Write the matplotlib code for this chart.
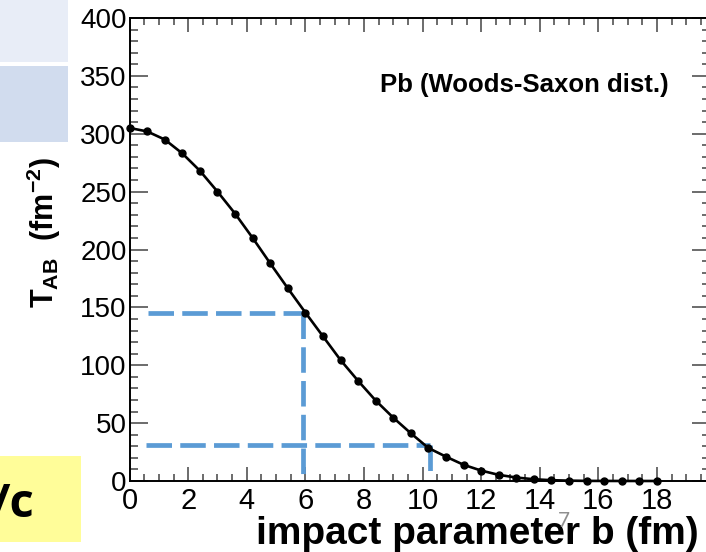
import matplotlib
matplotlib.use("Agg")
import matplotlib.pyplot as plt
from matplotlib.patches import Rectangle
from matplotlib.ticker import MultipleLocator

plt.rcParams['font.family'] = ['Liberation Sans', 'DejaVu Sans']
plt.rcParams['mathtext.fontset'] = 'custom'
plt.rcParams['mathtext.rm'] = 'Liberation Sans'
plt.rcParams['mathtext.bf'] = 'Liberation Sans:bold'
plt.rcParams['mathtext.it'] = 'Liberation Sans:italic'

# nuclear overlap function for Pb+Pb vs impact parameter
b_fm = [0.0, 0.6, 1.2, 1.8, 2.4, 3.0, 3.6, 4.2, 4.8, 5.4, 6.0,
        6.6, 7.2, 7.8, 8.4, 9.0, 9.6, 10.2, 10.8, 11.4, 12.0,
        12.6, 13.2, 13.8, 14.4, 15.0, 15.6, 16.2, 16.8, 17.4, 18.0]
t_ab = [305, 302, 295, 283, 268, 250, 231, 210, 188, 166.5, 145.5,
        125, 104.5, 86.5, 69.5, 54.7, 41.2, 28.5, 21, 14, 9,
        5.3, 3.0, 1.5, 0.7, 0.3, 0.1, 0.05, 0.02, 0.01, 0.0]

# read-off guides: (level, b where the level meets the curve)
guide_levels = [145, 31]
guide_b = [5.93, 10.25]
guide_start = [0.63, 0.56]
guide_floor = [0, 7]

W, H = 706, 552
fig = plt.figure(figsize=(W / 100, H / 100), dpi=100)

# slide decorations around the plot
fig.add_artist(Rectangle((0, 1 - 62 / H), 68 / W, 62 / H, transform=fig.transFigure,
                         facecolor='#E8EDF7', edgecolor='none'))
fig.add_artist(Rectangle((0, 1 - 142 / H), 68 / W, 76 / H, transform=fig.transFigure,
                         facecolor='#D1DCEE', edgecolor='none'))
fig.add_artist(Rectangle((0, 1 - 542 / H), 81 / W, 86 / H, transform=fig.transFigure,
                         facecolor='#FFFD99', edgecolor='none'))
fig.text(34 / W, 1 - 517 / H, '/c', ha='right', va='baseline', fontsize=34,
         fontweight='bold', family=['Open Sans', 'DejaVu Sans'])

ax = fig.add_axes([129.6 / W, 1 - 481 / H, 580.1 / W, 463 / H])

blue = '#5B9BD5'
for lvl, bx, b0, fl in zip(guide_levels, guide_b, guide_start, guide_floor):
    ax.plot([b0, bx], [lvl, lvl], color=blue, lw=3.4, dashes=(5.4, 1.75))
    ax.plot([bx, bx], [lvl, fl], color=blue, lw=3.4, dashes=(5.4, 1.75))

ax.plot(b_fm, t_ab, color='black', lw=1.9, marker='o', ms=5, zorder=3, clip_on=False)

ax.set_xlim(0, 19.8)
ax.set_ylim(0, 400)
ax.xaxis.set_major_locator(MultipleLocator(2))
ax.xaxis.set_minor_locator(MultipleLocator(0.5))
ax.yaxis.set_major_locator(MultipleLocator(50))
ax.yaxis.set_minor_locator(MultipleLocator(10))

ax.tick_params(axis='both', which='both', direction='in', top=True, right=True,
               color='#444444', width=1.1)
ax.tick_params(axis='x', which='major', length=10, pad=4, labelsize=21)
ax.tick_params(axis='x', which='minor', length=5)
ax.tick_params(axis='y', which='major', length=13, pad=2, labelsize=20)
ax.tick_params(axis='y', which='minor', length=6)
for s in ax.spines.values():
    s.set_linewidth(1.4)

fig.text(477 / W, 1 - 544 / H, 'impact parameter b (fm)', fontsize=28,
         fontweight='bold', ha='center', va='baseline')
ax.set_ylabel(r'$\mathbf{T_{AB}}$  $\mathbf{(fm^{-2})}$', fontsize=22)
ax.yaxis.set_label_coords(-0.115, 0.536)

fig.text(380 / W, 1 - 92 / H, 'Pb (Woods-Saxon dist.)', fontsize=18.5, fontweight='bold',
         ha='left', va='baseline')

# slide page number
fig.text(564 / W, 1 - 527 / H, '7', color='#8f8f8f', fontsize=15, ha='center',
         va='baseline', family=['Lato', 'DejaVu Sans'], zorder=10)

fig.savefig('out.png', dpi=100)
